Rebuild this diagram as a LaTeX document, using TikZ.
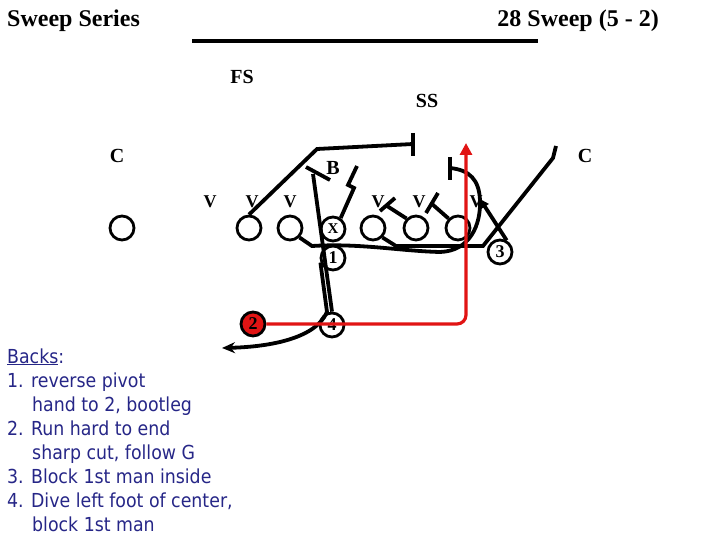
\documentclass[tikz,border=0pt]{standalone}
\usepackage{fontspec}
\setmainfont{Liberation Serif}
\newfontfamily\backsfont{DejaVu Sans Condensed}
\usepackage{xcolor}
\usetikzlibrary{arrows.meta}
\definecolor{backsblue}{RGB}{38,38,135}
\definecolor{runred}{RGB}{225,20,20}

\begin{document}
\begin{tikzpicture}[x=1pt, y=-1pt,
        title/.style={inner sep=0pt, font=\bfseries\fontsize{24}{24}\selectfont},
        lab/.style={inner sep=0pt, font=\bfseries\fontsize{20}{20}\selectfont},
        vlab/.style={inner sep=0pt, font=\bfseries\fontsize{18}{18}\selectfont},
        player/.style={circle, draw, line width=2.8pt, minimum size=24pt,
                       inner sep=0pt, font=\bfseries\fontsize{18}{18}\selectfont},
        route/.style={line width=3.8pt},
        bar/.style={line width=3.8pt},
        backs/.style={anchor=base west, inner sep=0pt, text=backsblue,
                      font=\backsfont\fontsize{19.3}{19.3}\selectfont}
    ]
        \useasboundingbox (0,0) rectangle (720,540);
        % titles
        \node[title, anchor=base west] (series) at (7,27)   {Sweep Series};
        \node[title, anchor=base east] (play)   at (659,27) {28 Sweep (5 - 2)};
        \draw[line width=4pt] (192,41) -- (538,41);
        % defence
        \node[lab] (fs)  at (242,77)  {FS};
        \node[lab] (ss)  at (427,101) {SS};
        \node[lab] (cl)  at (117,156) {C};
        \node[lab] (cr)  at (585,156) {C};
        \node[lab] (lb)  at (333,168) {B};
        \node[vlab] (v1) at (210,202) {V};
        \node[vlab] (v2) at (252,202) {V};
        \node[vlab] (v3) at (290,202) {V};
        \node[vlab] (v4) at (378,202) {V};
        \node[vlab] (v5) at (419,202) {V};
        \node[vlab] (v6) at (476,202) {V};
        % offence
        \node[player] (se)  at (122,228) {};
        \node[player] (lt)  at (249,228) {};
        \node[player] (lg)  at (290,228) {};
        \node[player, font=\bfseries\fontsize{15}{15}\selectfont] (ctr) at (333,229) {X};
        \node[player] (rg)  at (373,228) {};
        \node[player] (rt)  at (416,228) {};
        \node[player] (te)  at (458,228) {};
        \node[player] (b1)  at (333,258) {1};
        \node[player, fill=runred] (b2) at (253,324) {2};
        \node[player] (b3)  at (500,252) {3};
        \node[player] (b4)  at (332,325) {4};
        % route ends
        \coordinate (ltend)  at (413,144);
        \coordinate (lgend)  at (450,168);
        \coordinate (ctrend) at (357,166);
        \coordinate (rgend)  at (556,146);
        \coordinate (rtend)  at (387,206);
        \coordinate (teend)  at (432,204);
        \coordinate (b1end)  at (222,348);
        \coordinate (b2end)  at (466,143);
        \coordinate (b3end)  at (480,199);
        \coordinate (b4end)  at (313,174);
        % blocks
        \draw[route] (lt.north) -- (317,149) -- (ltend);
        \draw[bar] (413,133) -- (413,156);
        \draw[route] (lg.-45) -- (312,246) .. controls (360,243) and (400,251) .. (440,252)
            .. controls (470,251) and (481,225) .. (480,200)
            .. controls (479,180) and (470,170) .. (lgend);
        \draw[bar] (450,157) -- (450,180);
        \draw[route] (ctr.55) -- (354,188) -- (348,185) -- (ctrend);
        \draw[route] (rg.-45) -- (396,246) -- (483,246) -- (553,158) -- (rgend);
        \draw[route] (rt.135) -- (rtend);
        \draw[bar] (380,211) -- (395,198);
        \draw[route] (te.135) -- (teend);
        \draw[bar] (426,213) -- (438,193);
        \draw[route, -{Triangle[length=9pt, width=9pt]}] (b3.60) -- (b3end);
        \draw[route] (b4.north) -- (b4end);
        \draw[bar] (306,167) -- (330,180);
        \draw[route, -{Stealth[length=13pt, width=11pt]}] (b1.200) -- (327,312)
            .. controls (315,340) and (265,347) .. (b1end);
        % ball carrier
        \draw[route, line width=3.2pt, runred, rounded corners=9pt,
              -{Triangle[length=12pt, width=12pt]}]
            (b2.east) -- (466,324) -- (b2end);
        % notes
        \node[backs] (n0) at (7,363)  {\underline{Backs}:};
        \node[backs] (n1) at (7,387)  {1. reverse pivot};
        \node[backs] (n2) at (32,411) {hand to 2, bootleg};
        \node[backs] (n3) at (7,435)  {2. Run hard to end};
        \node[backs] (n4) at (32,459) {sharp cut, follow G};
        \node[backs] (n5) at (7,483)  {3. Block 1st man inside};
        \node[backs] (n6) at (7,507)  {4. Dive left foot of center,};
        \node[backs] (n7) at (32,531) {block 1st man};
\end{tikzpicture}
\end{document}
